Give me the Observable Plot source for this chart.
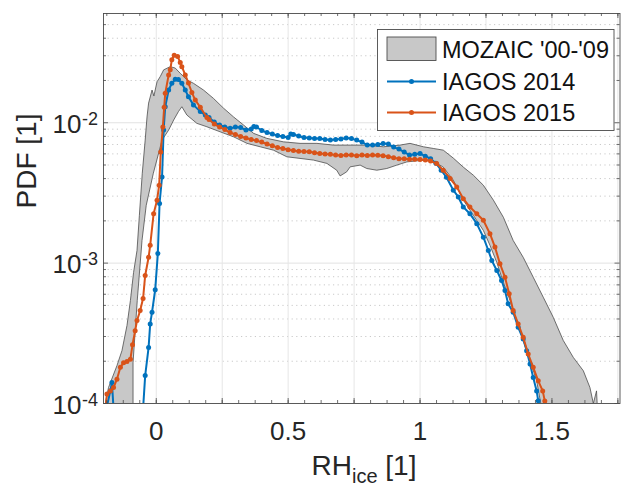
<!DOCTYPE html>
<html><head><meta charset="utf-8">
<script src="https://cdn.jsdelivr.net/npm/d3@7"></script>
<script src="https://cdn.jsdelivr.net/npm/@observablehq/plot@0.6"></script>
<style>html,body{margin:0;padding:0;background:#fff;} svg{display:block}</style>
</head><body><div id="chart"></div>
<script>
// ---- data ----
const seriesNames = ["MOZAIC '00-'09", "IAGOS 2014", "IAGOS 2015"];

const rhOrange = [-0.195,-0.187,-0.174,-0.162,-0.149,-0.136,-0.124,-0.111,-0.098,-0.090,-0.080,-0.073,-0.061,-0.050,-0.042,-0.029,-0.023,-0.010,0.003,0.011,0.017,0.025,0.030,0.034,0.047,0.053,0.059,0.068,0.081,0.091,0.097,0.110,0.122,0.135,0.148,0.167,0.192,0.20,0.22,0.24,0.26,0.28,0.30,0.32,0.34,0.36,0.38,0.40,0.42,0.44,0.46,0.48,0.50,0.52,0.54,0.56,0.58,0.60,0.62,0.64,0.66,0.68,0.70,0.72,0.74,0.76,0.78,0.80,0.82,0.84,0.86,0.88,0.90,0.92,0.94,0.96,0.98,1.00,1.02,1.04,1.063,1.088,1.114,1.139,1.164,1.189,1.215,1.240,1.265,1.284,1.303,1.322,1.338,1.353,1.372,1.391,1.410,1.429,1.448,1.465,1.473,1.482];
const pdfOrange = [8.5e-5,1.17e-4,1.23e-4,1.30e-4,1.49e-4,1.81e-4,1.95e-4,1.99e-4,2.07e-4,2.62e-4,3.30e-4,3.90e-4,4.59e-4,5.60e-4,8.17e-4,1.10e-3,1.34e-3,2.25e-3,2.81e-3,3.59e-3,6.18e-3,9.32e-3,1.29e-2,1.62e-2,2.19e-2,2.38e-2,2.81e-2,3.02e-2,2.96e-2,2.69e-2,2.51e-2,2.19e-2,1.92e-2,1.64e-2,1.45e-2,1.29e-2,1.09e-2,1.054e-2,9.79e-3,9.32e-3,8.94e-3,8.51e-3,8.24e-3,7.97e-3,7.78e-3,7.59e-3,7.46e-3,7.28e-3,7.05e-3,6.87e-3,6.65e-3,6.56e-3,6.43e-3,6.33e-3,6.26e-3,6.23e-3,6.21e-3,6.12e-3,6.04e-3,5.99e-3,5.97e-3,5.88e-3,5.85e-3,5.88e-3,5.88e-3,5.83e-3,5.88e-3,5.85e-3,5.88e-3,5.86e-3,5.83e-3,5.73e-3,5.64e-3,5.55e-3,5.55e-3,5.50e-3,5.50e-3,5.48e-3,5.42e-3,5.33e-3,5.13e-3,4.59e-3,4.01e-3,3.49e-3,2.88e-3,2.51e-3,2.25e-3,2.02e-3,1.62e-3,1.30e-3,9.9e-4,7.94e-4,6.04e-4,4.59e-4,3.69e-4,2.96e-4,2.25e-4,1.81e-4,1.45e-4,1.23e-4,1.04e-4,8.5e-5];

const rhBlue = [-0.190,-0.174,-0.168,-0.160,-0.120,-0.054,-0.042,-0.029,-0.023,-0.016,-0.004,0.006,0.0125,0.022,0.028,0.034,0.047,0.059,0.072,0.084,0.097,0.110,0.122,0.141,0.167,0.186,0.20,0.22,0.24,0.26,0.28,0.30,0.32,0.34,0.36,0.37,0.38,0.40,0.42,0.44,0.46,0.48,0.50,0.51,0.52,0.54,0.56,0.58,0.60,0.62,0.64,0.66,0.68,0.70,0.72,0.74,0.76,0.78,0.80,0.82,0.84,0.86,0.88,0.90,0.92,0.94,0.96,0.98,1.00,1.02,1.04,1.06,1.08,1.10,1.126,1.145,1.164,1.189,1.215,1.240,1.259,1.272,1.291,1.309,1.322,1.334,1.353,1.372,1.391,1.404,1.417,1.429,1.442,1.448,1.456];
const pdfBlue = [9.0e-5,1.23e-4,1.41e-4,8.0e-5,null,7.0e-5,1.58e-4,2.51e-4,3.69e-4,4.47e-4,6.46e-4,1.17e-3,2.66e-3,4.11e-3,8.87e-3,1.30e-2,1.71e-2,1.91e-2,2.04e-2,2.03e-2,1.91e-2,1.71e-2,1.53e-2,1.34e-2,1.20e-2,1.135e-2,1.089e-2,1.012e-2,9.63e-3,9.32e-3,9.12e-3,9.32e-3,9.24e-3,8.87e-3,9.02e-3,9.39e-3,9.32e-3,8.80e-3,8.51e-3,8.30e-3,8.10e-3,7.97e-3,7.84e-3,8.30e-3,8.24e-3,8.04e-3,7.84e-3,7.78e-3,7.71e-3,7.71e-3,7.59e-3,7.52e-3,7.59e-3,7.65e-3,7.78e-3,7.71e-3,7.52e-3,7.28e-3,6.93e-3,6.93e-3,6.99e-3,7.10e-3,7.05e-3,6.71e-3,6.49e-3,6.18e-3,5.88e-3,5.97e-3,6.03e-3,5.78e-3,5.55e-3,5.15e-3,4.59e-3,4.09e-3,3.31e-3,2.96e-3,2.51e-3,2.25e-3,1.91e-3,1.53e-3,1.23e-3,1.045e-3,8.87e-4,7.52e-4,6.38e-4,5.13e-4,4.47e-4,3.49e-4,2.88e-4,2.38e-4,1.91e-4,1.53e-4,1.23e-4,1.045e-4,8.0e-5];

const bandUpperRH = [-0.200,-0.193,-0.181,-0.149,-0.130,-0.111,-0.098,-0.086,-0.073,-0.064,-0.053,-0.042,-0.035,-0.029,-0.016,-0.009,0.003,0.015,0.028,0.053,0.072,0.091,0.116,0.141,0.179,0.217,0.255,0.293,0.331,0.369,0.419,0.482,0.545,0.609,0.672,0.735,0.798,0.861,0.924,0.962,1.013,1.050,1.088,1.126,1.164,1.202,1.240,1.278,1.316,1.353,1.391,1.429,1.467,1.505,1.543,1.581,1.619,1.644,1.657,1.669,1.674];
const bandUpperPdf = [8e-5,1.0e-4,1.30e-4,1.86e-4,2.38e-4,3.59e-4,5.42e-4,8.58e-4,1.23e-3,2.19e-3,4.37e-3,7.52e-3,1.10e-2,1.38e-2,1.71e-2,1.55e-2,1.96e-2,2.13e-2,2.38e-2,2.51e-2,2.45e-2,2.25e-2,2.02e-2,1.91e-2,1.71e-2,1.49e-2,1.27e-2,1.10e-2,9.63e-3,8.40e-3,7.74e-3,7.31e-3,7.13e-3,7.13e-3,6.93e-3,6.93e-3,6.93e-3,6.74e-3,6.93e-3,7.13e-3,6.74e-3,6.56e-3,6.38e-3,5.60e-3,4.83e-3,4.23e-3,3.59e-3,2.81e-3,2.12e-3,1.45e-3,1.10e-3,7.94e-4,5.72e-4,4.11e-4,2.81e-4,2.13e-4,1.71e-4,1.30e-4,1.0e-4,1.23e-4,8e-5];

const bandLowerRH = [-0.088,-0.088,-0.072,-0.054,-0.038,-0.011,0.022,0.047,0.066,0.084,0.097,0.116,0.154,0.192,0.242,0.293,0.344,0.394,0.444,0.495,0.545,0.596,0.647,0.684,0.697,0.722,0.735,0.773,0.798,0.836,0.874,0.912,0.950,0.988,1.025,1.063,1.088,1.126,1.164,1.202,1.240,1.265,1.291,1.316,1.341,1.366,1.391,1.417,1.442,1.467];
const bandLowerPdf = [8e-5,1.95e-4,5.42e-4,1.45e-3,2.58e-3,4.37e-3,7.52e-3,8.87e-3,1.045e-2,1.20e-2,1.30e-2,1.135e-2,9.9e-3,9.36e-3,8.62e-3,7.94e-3,7.13e-3,6.74e-3,6.38e-3,5.72e-3,5.57e-3,5.42e-3,5.13e-3,4.59e-3,4.18e-3,4.47e-3,4.85e-3,4.99e-3,4.72e-3,4.59e-3,4.72e-3,4.99e-3,5.26e-3,5.35e-3,5.42e-3,5.15e-3,4.83e-3,3.90e-3,2.81e-3,2.19e-3,1.71e-3,1.34e-3,1.01e-3,7.28e-4,5.42e-4,3.90e-4,2.81e-4,2.02e-4,1.45e-4,8e-5];

// ---- ticks ----
const xTickValues = [0, 0.5, 1, 1.5];
const xTickLabels = ["0", "0.5", "1", "1.5"];
const xGridValues = [0, 0.25, 0.5, 0.75, 1, 1.25, 1.5, 1.75];
const yTickValues = [1e-4, 1e-3, 1e-2];
const yTickBase = ["10", "10", "10"];
const yTickExp = ["-4", "-3", "-2"];
const yMinorValues = [2e-4,3e-4,4e-4,5e-4,6e-4,7e-4,8e-4,9e-4,2e-3,3e-3,4e-3,5e-3,6e-3,7e-3,8e-3,9e-3,2e-2,3e-2,4e-2,5e-2];
const xLabelMain = "RH", xLabelSub = "ice", xLabelUnit = " [1]";
const yLabel = "PDF [1]";

// ---- build tables ----
const orange = rhOrange.map((x, i) => ({x, y: pdfOrange[i]}));
const blue = rhBlue.map((x, i) => ({x, y: pdfBlue[i]}));
const band = bandUpperRH.map((x, i) => ({x, y: bandUpperPdf[i]}))
  .concat(bandLowerRH.map((x, i) => ({x, y: bandLowerPdf[i]})).reverse());
const xMinorTicks = d3.range(-0.1875, 1.76, 0.0625);

const W = 621, H = 487;
const mL = 103, mR = 1.5, mT = 13, mB = 84;
const plotW = W - mL - mR, plotH = H - mT - mB;
const font = "'Liberation Sans', Arial, Helvetica, sans-serif";
const cBlue = "#0072BD", cOrange = "#D95319", cAxis = "#4a4a4a";

const chart = Plot.plot({
  width: W, height: H,
  marginLeft: mL, marginRight: mR, marginTop: mT, marginBottom: mB,
  style: {fontFamily: font, background: "#fff", overflow: "visible"},
  x: {domain: [-0.2, 1.758], axis: null},
  y: {type: "log", domain: [1e-4, 0.06], axis: null},
  marks: [
    Plot.ruleY(yMinorValues, {stroke: "#c9c9c9", strokeDasharray: "1.2,3.4", strokeWidth: 1}),
    Plot.ruleY(yTickValues, {stroke: "#e2e2e2", strokeWidth: 1}),
    Plot.ruleX(xGridValues, {stroke: "#e6e6e6", strokeWidth: 1}),
    Plot.line(band, {x: "x", y: "y", fill: "#c8c8c8", stroke: "#4d4d4d", strokeWidth: 0.8, curve: "linear", clip: true}),
    Plot.line(blue, {x: "x", y: "y", stroke: cBlue, strokeWidth: 2, clip: true}),
    Plot.dot(blue, {x: "x", y: "y", r: 2.5, fill: cBlue, clip: true}),
    Plot.line(orange, {x: "x", y: "y", stroke: cOrange, strokeWidth: 2, clip: true}),
    Plot.dot(orange, {x: "x", y: "y", r: 2.5, fill: cOrange, clip: true}),
    Plot.frame({stroke: cAxis, strokeWidth: 0.9}),
    // inward ticks (bottom / top)
    Plot.ruleX(xMinorTicks, {stroke: cAxis, strokeWidth: 0.8, insetTop: plotH - 3}),
    Plot.ruleX(xGridValues, {stroke: cAxis, strokeWidth: 0.8, insetTop: plotH - 5}),
    Plot.ruleX(xMinorTicks, {stroke: cAxis, strokeWidth: 0.8, insetBottom: plotH - 3}),
    Plot.ruleX(xGridValues, {stroke: cAxis, strokeWidth: 0.8, insetBottom: plotH - 5}),
    // inward ticks (left / right)
    Plot.ruleY(yMinorValues, {stroke: cAxis, strokeWidth: 0.8, insetRight: plotW - 3}),
    Plot.ruleY(yTickValues, {stroke: cAxis, strokeWidth: 0.8, insetRight: plotW - 5}),
    Plot.ruleY(yMinorValues, {stroke: cAxis, strokeWidth: 0.8, insetLeft: plotW - 3}),
    Plot.ruleY(yTickValues, {stroke: cAxis, strokeWidth: 0.8, insetLeft: plotW - 5}),
    // tick labels
    Plot.text(xTickValues, {x: d => d, frameAnchor: "bottom", text: (d, i) => xTickLabels[i], lineAnchor: "bottom", dy: 36, fontSize: 26, fill: "#262626"}),
    Plot.text(yTickValues, {y: d => d, frameAnchor: "left", text: (d, i) => yTickBase[i], textAnchor: "end", lineAnchor: "bottom", dx: -22, dy: 10, fontSize: 26, fill: "#262626"}),
    Plot.text(yTickValues, {y: d => d, frameAnchor: "left", text: (d, i) => yTickExp[i], textAnchor: "start", lineAnchor: "bottom", dx: -21.5, dy: 2, fontSize: 18, fill: "#262626"}),
    Plot.text([yLabel], {frameAnchor: "left", text: d => d, rotate: -90, lineAnchor: "bottom", dx: -68, fontSize: 28, fill: "#262626"})
  ]
});
document.getElementById("chart").appendChild(chart);

// ---- x label with subscript ----
const svg = d3.select(chart);
const xl = svg.append("text")
  .attr("x", 364).attr("y", 475)
  .attr("text-anchor", "middle")
  .attr("font-family", font).attr("font-size", 28).attr("fill", "#262626");
xl.append("tspan").text(xLabelMain);
xl.append("tspan").attr("dy", 8).attr("font-size", 20).text(xLabelSub);
xl.append("tspan").attr("dy", -8).text(xLabelUnit);

// ---- legend ----
const lg = svg.append("g").attr("font-family", font).attr("font-size", 23.5).attr("text-anchor", "start");
lg.append("rect").attr("x", 377.5).attr("y", 29.5).attr("width", 236.5).attr("height", 101)
  .attr("fill", "#fff").attr("stroke", cAxis).attr("stroke-width", 0.9);
lg.append("rect").attr("x", 387).attr("y", 37).attr("width", 49).attr("height", 23.5)
  .attr("fill", "#c8c8c8").attr("stroke", "#4d4d4d").attr("stroke-width", 0.9);
const rows = [{y: 49, name: seriesNames[0]}, {y: 81.5, name: seriesNames[1], c: cBlue}, {y: 112.5, name: seriesNames[2], c: cOrange}];
rows.forEach(r => {
  if (r.c) {
    lg.append("line").attr("x1", 387).attr("x2", 436).attr("y1", r.y).attr("y2", r.y)
      .attr("stroke", r.c).attr("stroke-width", 1.8);
    lg.append("circle").attr("cx", 411.5).attr("cy", r.y).attr("r", 2.5).attr("fill", r.c);
  }
  lg.append("text").attr("x", 442).attr("y", r.y + 8.5).attr("text-anchor", "start").attr("fill", "#111").text(r.name);
});
</script>
</body></html>
